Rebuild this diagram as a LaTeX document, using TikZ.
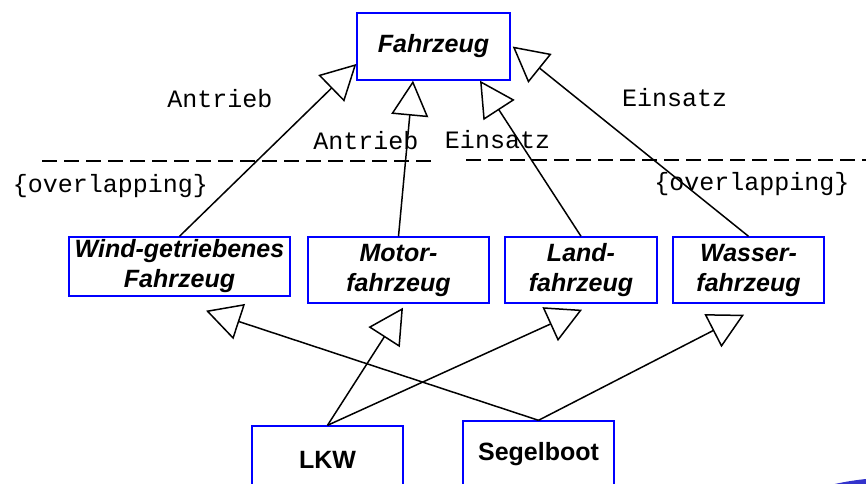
\documentclass[tikz,border=0pt]{standalone}
\usepackage{fontspec}
\setmainfont{Liberation Sans}
\setmonofont{Liberation Mono}
\definecolor{boxblue}{RGB}{0,0,255}
\definecolor{logoblue}{RGB}{51,51,204}
\usetikzlibrary{arrows.meta, positioning, calc}

\tikzset{
  cls/.style={draw=boxblue, line width=1.4pt, align=center, inner sep=0pt,
    font=\fontsize{25}{30}\selectfont\bfseries\itshape},
  obj/.style={cls, font=\fontsize{25}{30}\selectfont\bfseries},
  isa/.style={line width=1.5pt, -{Triangle[open, length=35pt, width=37pt, line width=1.5pt]}},
  lbl/.style={font=\fontsize{25}{29}\selectfont\ttfamily, anchor=base, inner sep=0pt},
  sep/.style={line width=1.8pt, dash pattern=on 15pt off 7pt}
}

\begin{document}
\begin{tikzpicture}[x=1pt, y=-1pt]
  \useasboundingbox (0,0) rectangle (866,483);

  % classes
  \node[cls, minimum width=153pt, minimum height=67pt] (fz) at (433.5,46.5) {Fahrzeug};
  \node[cls, minimum width=221pt, minimum height=59pt] (wind) at (179.5,266.5) {Wind-getriebenes\\Fahrzeug};
  \node[cls, minimum width=181pt, minimum height=66pt] (motor) at (398.5,270) {Motor-\\fahrzeug};
  \node[cls, minimum width=152pt, minimum height=66pt] (land) at (581,270) {Land-\\fahrzeug};
  \node[cls, minimum width=151pt, minimum height=66pt] (wasser) at (748.5,270) {Wasser-\\fahrzeug};
  \node[obj, minimum width=151pt, minimum height=67pt] (lkw) at (327.5,459.5) {LKW};
  \node[obj, minimum width=151pt, minimum height=67pt] (seg) at (538.5,454.5) {Segelboot};

  % discriminators
  \node[lbl] (antrieb1) at (220,107) {Antrieb};
  \node[lbl] (antrieb2) at (366,149) {Antrieb};
  \node[lbl] (einsatz2) at (497.5,148) {Einsatz};
  \node[lbl] (einsatz1) at (674.5,106) {Einsatz};
  \node[lbl] (ovl1) at (110.5,192) {\{overlapping\}};
  \node[lbl] (ovl2) at (752,190) {\{overlapping\}};
  \draw[sep] (42,161) -- (432,161);
  \draw[sep] (466,160) -- (866,160);

  % generalisations
  \draw[isa] (wind.north) -- ([yshift=-17.5pt]fz.west);
  \draw[isa] (motor.north) -- ([xshift=-20.5pt]fz.south);
  \draw[isa] (land.north) -- ([xshift=46.5pt]fz.south);
  \draw[isa] (wasser.north) -- ([xshift=2pt]fz.east);
  \draw[isa] (lkw.north) -- ([xshift=4.5pt,yshift=-4pt]motor.south);
  \draw[isa] (lkw.north) -- ([xshift=1pt,yshift=-6pt]land.south);
  \draw[isa] (seg.north) -- ([xshift=26.5pt,yshift=-14pt]wind.south);
  \draw[isa] (seg.north) -- ([xshift=-4.5pt,yshift=-11pt]wasser.south);

  \fill[logoblue] (895,757.5) circle[radius=280];
\end{tikzpicture}
\end{document}
